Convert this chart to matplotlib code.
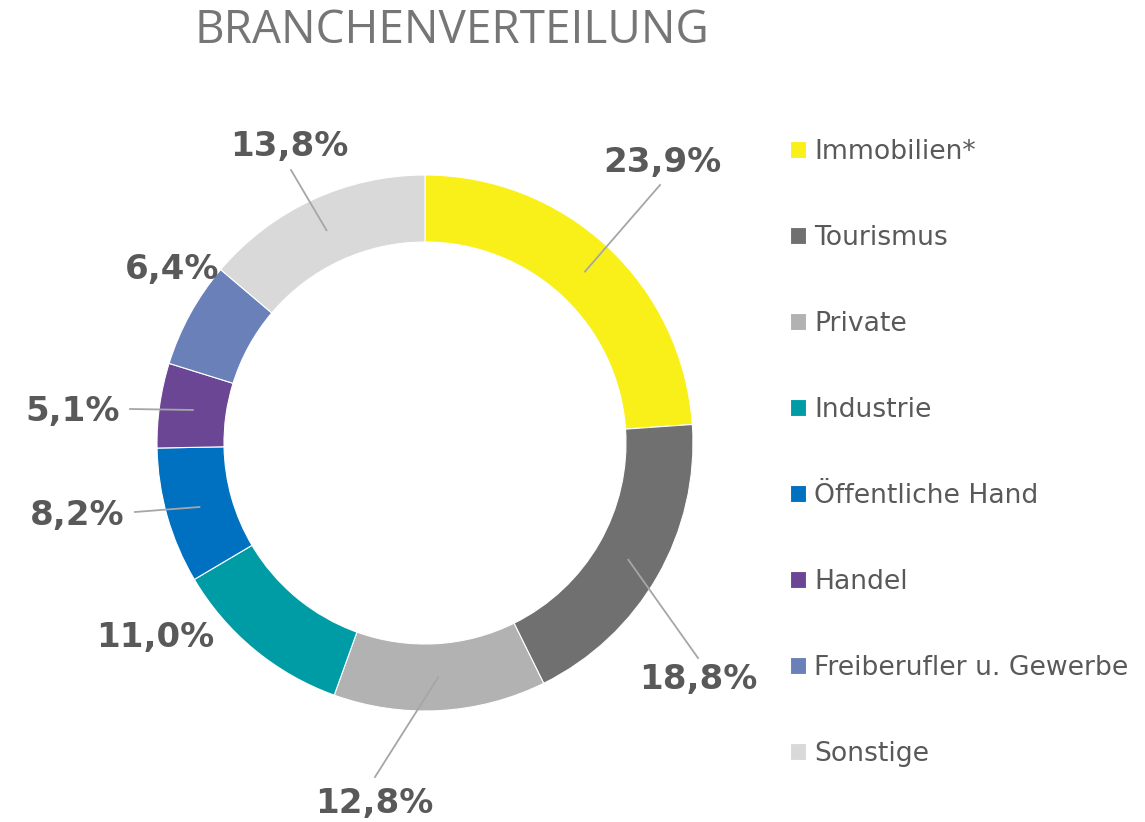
import numpy as np
import matplotlib.pyplot as plt

# Daten
branchen = ["Immobilien*", "Tourismus", "Private", "Industrie",
            "Öffentliche Hand", "Handel", "Freiberufler u. Gewerbe", "Sonstige"]
anteile = [23.9, 18.8, 12.8, 11.0, 8.2, 5.1, 6.4, 13.8]
farben = ["#F9F01A", "#707070", "#B2B2B2", "#009CA6",
          "#0070C0", "#6B4694", "#6A80B9", "#D9D9D9"]

# Layout in Pixeln (Bild 1145x822, Ringmitte bei 425/443, Radius 268)
W, H = 1145, 822
cx, cy, R = 425, 443, 268
label_px = [(662, 163), (698, 680), (374, 803), (155, 638),
            (77, 515), (73, 412), (172, 270), (289, 147)]
line_end_px = [(660, 185), (698, 658), (375, 777), None,
               (135, 512), (130, 409), None, (291, 170)]


def to_data(p):
    return ((p[0] - cx) / R, (cy - p[1]) / R)


fig = plt.figure(figsize=(W / 100, H / 100), dpi=100)
ax = fig.add_axes([0, 0, 1, 1])

wedges, _ = ax.pie(
    anteile,
    colors=farben,
    startangle=90,
    counterclock=False,
    radius=1.0,
    wedgeprops=dict(width=0.25, edgecolor="white", linewidth=0.8),
)
# pie setzt eigene Grenzen -> danach überschreiben
ax.set_xlim(-cx / R, (W - cx) / R)
ax.set_ylim(-(H - cy) / R, cy / R)
ax.set_aspect("equal")
ax.axis("off")

# Beschriftungen mit Führungslinien
start = 90.0
for val, lp, le in zip(anteile, label_px, line_end_px):
    mid = np.deg2rad(start - val * 3.6 / 2)
    start -= val * 3.6
    if le is not None:
        x0, y0 = 0.875 * np.cos(mid), 0.875 * np.sin(mid)
        x1, y1 = to_data(le)
        ax.plot([x0, x1], [y0, y1], color="#A6A6A6", linewidth=1.3)
    tx, ty = to_data(lp)
    ax.text(tx, ty, f"{val:.1f}%".replace(".", ","), ha="center", va="center",
            fontsize=24.5, fontweight="bold", color="#595959",
            family="DejaVu Sans")

fig.text(452 / W, 1 - 31 / H, "BRANCHENVERTEILUNG", ha="center", va="center",
         fontsize=33, color="#767676", family="Open Sans")

leg = ax.legend(
    wedges, branchen,
    loc="upper left",
    bbox_to_anchor=(790 / W, 1 - 139 / H),
    bbox_transform=fig.transFigure,
    frameon=False,
    fontsize=19.2,
    handlelength=0.6,
    handleheight=0.6,
    handletextpad=0.3,
    labelspacing=2.25,
    borderpad=0,
    borderaxespad=0,
)
for t in leg.get_texts():
    t.set_color("#595959")

fig.savefig("out.png", dpi=100)
